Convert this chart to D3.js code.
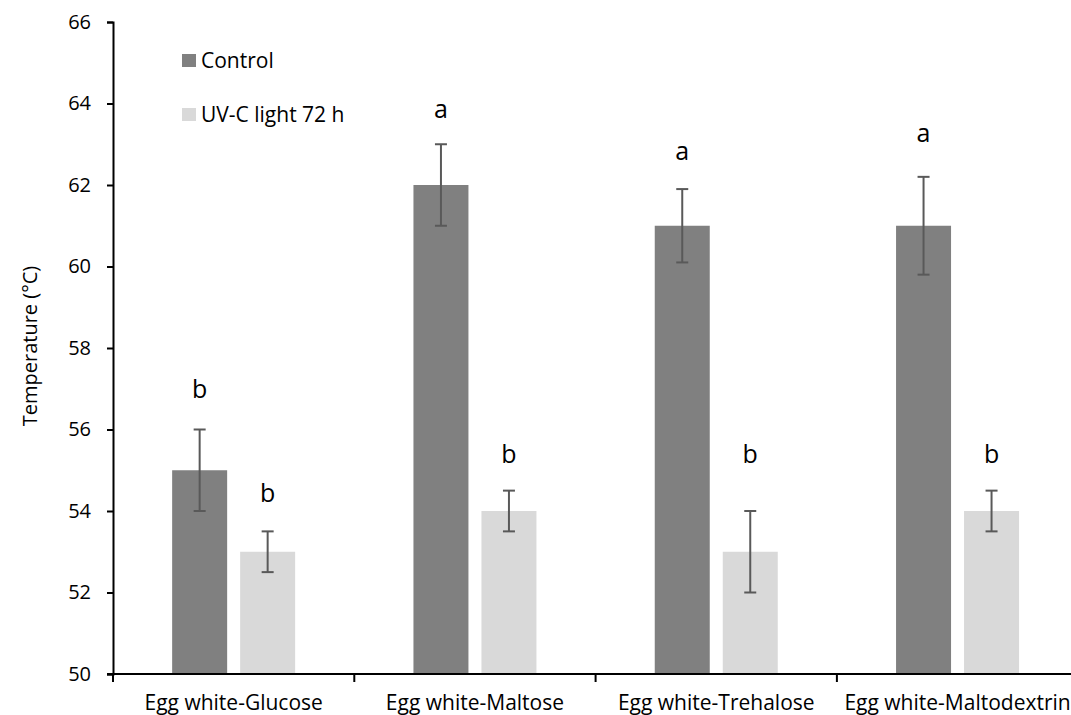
<!DOCTYPE html>
<html>
<head>
<meta charset="utf-8">
<script src="https://cdn.jsdelivr.net/npm/d3@7"></script>
<style>
  body { margin: 0; background: #fff; }
  text { font-family: "Open Sans", "Liberation Sans", sans-serif; fill: #000; }
</style>
</head>
<body>
<div id="chart"></div>
<script>
// Data
var categories = ["Egg white-Glucose", "Egg white-Maltose", "Egg white-Trehalose", "Egg white-Maltodextrin"];
var seriesNames = ["Control", "UV-C light 72 h"];
var controlVals = [55, 62, 61, 61];
var controlErr = [1, 1, 0.9, 1.2];
var controlLetters = ["b", "a", "a", "a"];
var controlLetterAt = [57.0, 63.8, 62.75, 63.2]; // level (°C) the letter sits at
var uvVals = [53, 54, 53, 54];
var uvErr = [0.5, 0.5, 1, 0.5];
var uvLetters = ["b", "b", "b", "b"];
var uvLetterAt = [54.45, 55.4, 55.4, 55.4];
var yTicks = [50, 52, 54, 56, 58, 60, 62, 64, 66];

var colors = ["#808080", "#d9d9d9"];

var width = 1071, height = 715;
var margin = {top: 22, left: 113, bottom: 41};
var bandW = 241.3;

var svg = d3.select("#chart").append("svg")
    .attr("width", width).attr("height", height);

var y = d3.scaleLinear().domain([50, 66]).range([height - margin.bottom, margin.top]);
var x = d3.scaleBand().domain(categories)
    .range([margin.left, margin.left + bandW * categories.length]).paddingInner(0).paddingOuter(0);
var barW = 55, offset = 34;

// build rows for the bars
var rows = [];
categories.forEach(function(c, i) {
    rows.push({cat: c, s: 0, v: controlVals[i], e: controlErr[i], l: controlLetters[i], at: controlLetterAt[i]});
    rows.push({cat: c, s: 1, v: uvVals[i], e: uvErr[i], l: uvLetters[i], at: uvLetterAt[i]});
});
function cx(d) { return x(d.cat) + x.bandwidth() / 2 + (d.s == 0 ? -offset : offset); }

// bars
svg.append("g").selectAll("rect").data(rows).enter().append("rect")
    .attr("x", function(d) { return cx(d) - barW / 2; })
    .attr("y", function(d) { return y(d.v); })
    .attr("width", barW)
    .attr("height", function(d) { return y(50) - y(d.v); })
    .attr("fill", function(d) { return colors[d.s]; });

// error bars
var eb = svg.append("g").attr("stroke", "#595959").attr("stroke-width", 2);
rows.forEach(function(d) {
    var px = cx(d);
    eb.append("line").attr("x1", px).attr("x2", px).attr("y1", y(d.v - d.e)).attr("y2", y(d.v + d.e));
    eb.append("line").attr("x1", px - 6).attr("x2", px + 6).attr("y1", y(d.v - d.e)).attr("y2", y(d.v - d.e));
    eb.append("line").attr("x1", px - 6).attr("x2", px + 6).attr("y1", y(d.v + d.e)).attr("y2", y(d.v + d.e));
});

// significance letters
svg.append("g").selectAll("text").data(rows).enter().append("text")
    .attr("x", function(d) { return cx(d); })
    .attr("y", function(d) { return y(d.at) + (d.l == "b" ? 9 : 6); })
    .attr("text-anchor", "middle")
    .style("font-size", "25px")
    .text(function(d) { return d.l; });

// y axis
var yAxis = svg.append("g").attr("transform", "translate(" + margin.left + ",0)")
    .call(d3.axisLeft(y).tickValues(yTicks).tickSize(6).tickPadding(16));
yAxis.select(".domain").attr("stroke", "#000").attr("stroke-width", 2);
yAxis.selectAll(".tick line").attr("stroke", "#000").attr("stroke-width", 2);
yAxis.selectAll(".tick text").style("font-size", "20px").style("font-family", "Open Sans, Liberation Sans, sans-serif");

// x axis (runs off the right edge like the original)
var xg = svg.append("g").attr("transform", "translate(0," + y(50) + ")");
xg.append("line").attr("x1", margin.left - 6).attr("x2", width).attr("stroke", "#000").attr("stroke-width", 2);
xg.selectAll(".xt").data(categories).enter().append("line")
    .attr("x1", function(d) { return x(d); }).attr("x2", function(d) { return x(d); })
    .attr("y1", 0).attr("y2", 8).attr("stroke", "#000").attr("stroke-width", 2);
xg.selectAll(".xl").data(categories).enter().append("text")
    .attr("x", function(d) { return x(d) + x.bandwidth() / 2; })
    .attr("y", 36)
    .attr("text-anchor", "middle")
    .style("font-size", "21px")
    .text(function(d) { return d; });

// y title
svg.append("text")
    .attr("transform", "translate(37," + (y(58) - 2) + ") rotate(-90)")
    .attr("text-anchor", "middle")
    .style("font-size", "20px")
    .text("Temperature (°C)");

// legend
var leg = svg.append("g").attr("transform", "translate(182,54)");
seriesNames.forEach(function(n, i) {
    var g = leg.append("g").attr("transform", "translate(0," + (i * 54) + ")");
    g.append("rect").attr("width", 14).attr("height", 13).attr("fill", colors[i]);
    g.append("text").attr("x", 19).attr("y", 14).style("font-size", "21px").text(n);
});
</script>
</body>
</html>
